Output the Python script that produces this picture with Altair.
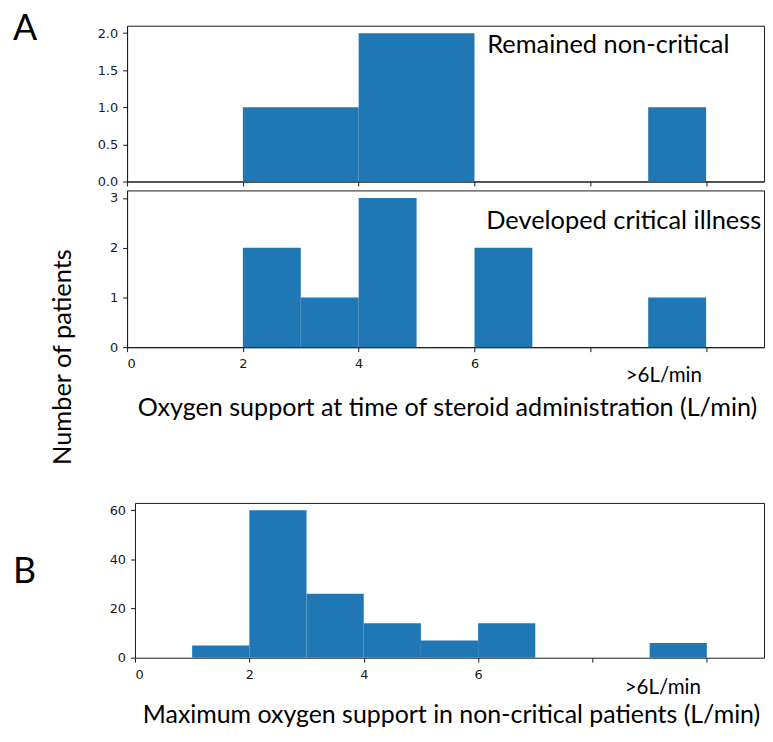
import altair as alt
import pandas as pd

# ---------------- data ----------------
# Panel A (top): remained non-critical
a1_start = [2, 4, 9]
a1_end = [4, 6, 10]
a1_count = [1, 2, 1]
# Panel A (bottom): developed critical illness
a2_start = [2, 3, 4, 6, 9]
a2_end = [3, 4, 5, 7, 10]
a2_count = [2, 1, 3, 2, 1]
# Panel B: maximum oxygen support in non-critical patients
b_start = [1, 2, 3, 4, 5, 6, 9]
b_end = [2, 3, 4, 5, 6, 7, 10]
b_count = [5, 60, 26, 14, 7, 14, 6]

x_ticks = [0, 2, 4, 6, 8, 10]
a1_yticks = [0, 0.5, 1.0, 1.5, 2.0]
a2_yticks = [0, 1, 2, 3]
b_yticks = [0, 20, 40, 60]

title_a = "Oxygen support at time of steroid administration (L/min)"
title_b = "Maximum oxygen support in non-critical patients (L/min)"
y_title = "Number of patients"
label_a1 = "Remained non-critical"
label_a2 = "Developed critical illness"
over6 = ">6L/min"

# ---------------- style ----------------
W = 642
BAR = "#1f77b4"
INK = "#1a1a1a"
FONT = "Lato"
FS = 25.6
TICK_FONT = "DejaVu Sans"
TICK_FS = 13

def df(s, e, c):
    return pd.DataFrame({"start": s, "end": e, "count": c})

def xaxis(labels):
    return alt.Axis(values=x_ticks, labels=labels,
                    labelExpr="datum.value <= 6 ? datum.label : ''",
                    title=None, grid=False, tickSize=4.5, labelPadding=6,
                    labelFont=TICK_FONT, labelFontSize=TICK_FS, labelColor=INK,
                    tickColor=INK, domainColor=INK)

def yaxis(vals, fmt, offset=0):
    return alt.Axis(values=vals, format=fmt, title=None, grid=False,
                    tickSize=4.5, labelPadding=5, offset=offset,
                    labelFont=TICK_FONT, labelFontSize=TICK_FS, labelColor=INK,
                    tickColor=INK, domainColor=INK)

def text(label, x, y, size=FS, angle=0, align="center", baseline="alphabetic"):
    return alt.Chart(pd.DataFrame({"t": [label]})).mark_text(
        font=FONT, fontSize=size, color="black", align=align,
        baseline=baseline, angle=angle
    ).encode(text="t:N", x=alt.value(x), y=alt.value(y))

def bars(data, ymax, yvals, fmt, labels, xrange=None, yoffset=0):
    if xrange is not None:
        xs = alt.Scale(domain=[0, 11], nice=False, zero=False, range=xrange)
    else:
        xs = alt.Scale(domain=[0, 11], nice=False, zero=False)
    return alt.Chart(data).mark_rect(color=BAR).encode(
        x=alt.X("start:Q", scale=xs, axis=xaxis(labels)),
        x2="end:Q",
        y=alt.Y("count:Q", scale=alt.Scale(domain=[0, ymax], nice=False),
                axis=yaxis(yvals, fmt, yoffset)),
        y2=alt.datum(0),
    )

# ---------------- panels ----------------
a1 = alt.layer(
    bars(df(a1_start, a1_end, a1_count), 2.1, a1_yticks, ".1f", False),
    text(label_a1, 363, 27, align="left"),
    text("A", -115, -13.2, size=36, align="left", baseline="top"),
).properties(width=W, height=157)

a2 = alt.layer(
    bars(df(a2_start, a2_end, a2_count), 3.15, a2_yticks, "d", True),
    text(label_a2, 362, 39, align="left"),
    text(over6, 541, 193, size=20.7),
    text(title_a, 323, 227, size=25.3),
    text(y_title, -57, 168, angle=270),
).properties(width=W, height=158)

spacer = alt.Chart(pd.DataFrame({"v": [0]})).mark_point(opacity=0, size=1).encode(
    x=alt.value(0), y=alt.value(0)
).properties(width=W, height=139, view=alt.ViewBackground(stroke="transparent"))

b_data = df(b_start, b_end, b_count)
b_xscale = alt.Scale(domain=[0, 11], nice=False, zero=False, range=[8, W])
b_yscale = alt.Scale(domain=[0, 63], nice=False)
b_frame = alt.Chart(b_data).mark_rect(opacity=0).encode(
    x=alt.X("start:Q", scale=b_xscale,
            axis=alt.Axis(orient="top", labels=False, ticks=False, title=None,
                          grid=False, domainColor=INK)),
    x2="end:Q",
    y=alt.Y("count:Q", scale=b_yscale,
            axis=alt.Axis(orient="right", labels=False, ticks=False, title=None,
                          grid=False, domainColor=INK)),
    y2=alt.datum(0),
)
b = alt.layer(
    bars(b_data, 63, b_yticks, "d", True, xrange=[8, W], yoffset=-8),
    b_frame,
    text(over6, 540, 193, size=20.7),
    text(title_b, 327, 222, size=25.1),
    text("B", -115, 52.8, size=36, align="left", baseline="top"),
).resolve_axis(x="independent", y="independent").properties(
    width=W, height=156, view=alt.ViewBackground(stroke="transparent"))

chart = alt.vconcat(a1, a2, spacer, b, spacing=9, bounds="flush").properties(
    padding={"left": 4, "top": 0, "right": 0, "bottom": 0}
).configure_view(stroke=INK, strokeWidth=1)

chart.save("out.html", embed_options={"renderer": "svg", "actions": False})
